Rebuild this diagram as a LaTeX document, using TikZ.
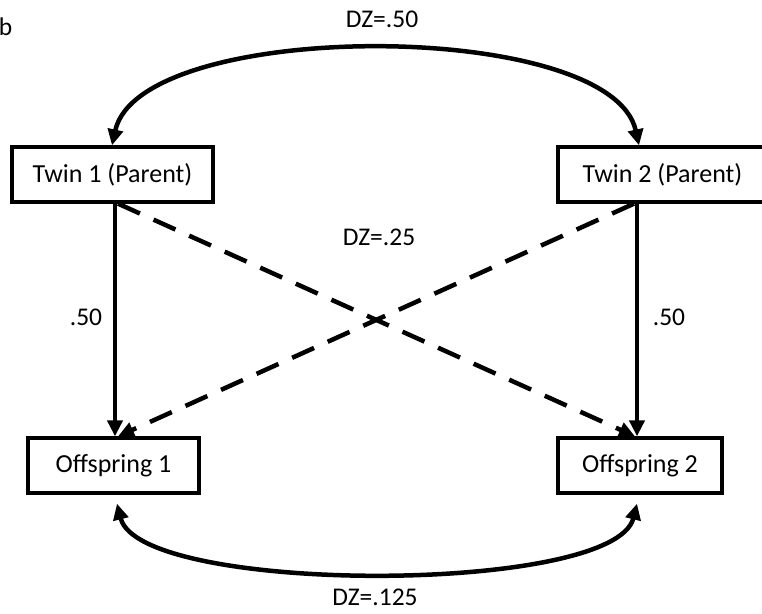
\documentclass[tikz,border=0pt]{standalone}
\usepackage{fontspec}
\setmainfont{Carlito}
\usetikzlibrary{arrows.meta,calc}
\begin{document}
\begin{tikzpicture}[x=1pt,y=-1pt,
 box/.style={draw,line width=3.3pt,minimum width=#1,minimum height=55pt,inner sep=0pt,font=\fontsize{26}{30}\selectfont},
 lbl/.style={font=\fontsize{25.5}{30}\selectfont,inner sep=0pt},
 arr/.style={line width=4.5pt,-{Triangle[length=16pt,width=15pt]}},
 darr/.style={arr,dash pattern=on 24pt off 15pt},
 barr/.style={line width=4.5pt,{Triangle[length=16pt,width=15pt]}-{Triangle[length=16pt,width=15pt]}}]
\useasboundingbox (0,0) rectangle (762,613);
\node[box=201pt] (t1) at (112.5,174.5) {Twin 1 (Parent)};
\node[box=209pt] (t2) at (662.5,174.5) {Twin 2 (Parent)};
\node[box=171pt] (o1) at (113.5,465.5) {Offspring 1};
\node[box=164pt] (o2) at (640,465.5) {Offspring 2};
% vertical
\draw[arr] ([xshift=2.5pt]t1.south) -- ([xshift=1.5pt]o1.north);
\draw[arr] ([xshift=-25.5pt]t2.south) -- ([xshift=-3pt]o2.north);
% dashed
\draw[darr] ([xshift=5.5pt]t1.south) -- ([xshift=-5pt]o2.north);
\draw[darr] ([xshift=-28.5pt]t2.south) -- ([xshift=4.5pt]o1.north);
% arcs
\draw[barr] ([xshift=-0.5pt]t1.north) .. controls (140,18) and (611,18) .. ([xshift=-23.5pt]t2.north);
\draw[barr] ([xshift=3.5pt,yshift=-9pt]o1.south) .. controls (140,595) and (614,595) .. ([xshift=-3pt,yshift=-9pt]o2.south);
% labels
\node[lbl] (b) at (5.5,27) {b};
\node[lbl] (dz50) at (382,19) {DZ=.50};
\node[lbl] (dz25) at (379,237) {DZ=.25};
\node[lbl] (l1) at (86,317) {.50};
\node[lbl] (l2) at (669,317) {.50};
\node[lbl] (dz125) at (375,597) {DZ=.125};
\end{tikzpicture}
\end{document}
